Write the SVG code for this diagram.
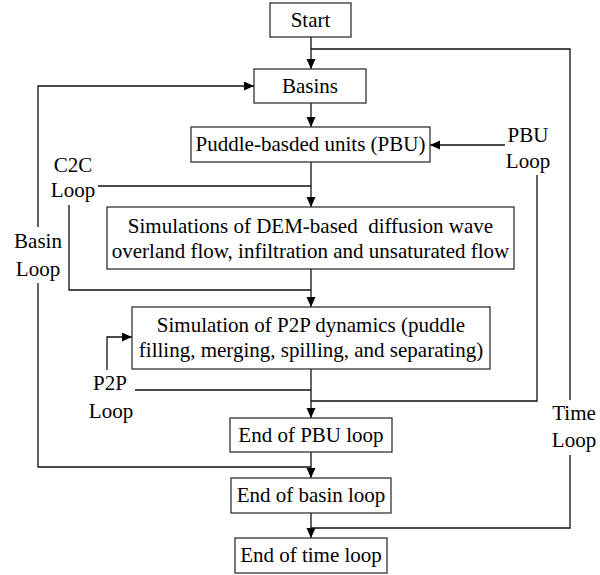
<svg xmlns="http://www.w3.org/2000/svg" width="600" height="575" viewBox="0 0 600 575">
<defs>
<marker id="ah" markerUnits="userSpaceOnUse" markerWidth="11" markerHeight="10" refX="10" refY="4.5" orient="auto">
<path d="M0,0 L10,4.5 L0,9 z" fill="#000"/>
</marker>
</defs>
<rect width="600" height="575" fill="#fff"/>
<g id="connectors" fill="none" stroke="#111" stroke-width="1.3">
<path d="M311,37 V69" marker-end="url(#ah)"/>
<path d="M311,103 V127" marker-end="url(#ah)"/>
<path d="M311,162 V207" marker-end="url(#ah)"/>
<path d="M311,269 V307" marker-end="url(#ah)"/>
<path d="M311,369 V418" marker-end="url(#ah)"/>
<path d="M311,452 V478" marker-end="url(#ah)"/>
<path d="M311,513 V538" marker-end="url(#ah)"/>
<path d="M311,49 H570 V400"/>
<path d="M570,455 V528 H311"/>
<path d="M311,467 H38 V283"/>
<path d="M38,227 V86 H254" marker-end="url(#ah)"/>
<path d="M98,186 H311"/>
<path d="M69,205 V290 H311"/>
<path d="M135,390 H311"/>
<path d="M107,370 V337 H132" marker-end="url(#ah)"/>
<path d="M537,175 V401 H311"/>
<path d="M505,145 H430" marker-end="url(#ah)"/>
</g>
<g id="start"><rect x="270" y="3" width="81" height="34" fill="#fff" stroke="#333" stroke-width="1.3"/><text x="310.5" y="27" font-family="Times New Roman, serif" font-size="21" text-anchor="middle">Start</text></g>
<g id="basins"><rect x="254" y="69" width="112" height="34" fill="#fff" stroke="#333" stroke-width="1.3"/><text x="310" y="93" font-family="Times New Roman, serif" font-size="21" text-anchor="middle">Basins</text></g>
<g id="pbu"><rect x="191" y="127" width="239" height="35" fill="#fff" stroke="#333" stroke-width="1.3"/><text x="310.5" y="151" font-family="Times New Roman, serif" font-size="21" text-anchor="middle">Puddle-basded units (PBU)</text></g>
<g id="sim"><rect x="107" y="207" width="407" height="62" fill="#fff" stroke="#333" stroke-width="1.3"/><text x="310.5" y="233" font-family="Times New Roman, serif" font-size="21" text-anchor="middle">Simulations of DEM-based&#160; diffusion wave</text><text x="310.5" y="258" font-family="Times New Roman, serif" font-size="21" text-anchor="middle">overland flow, infiltration and unsaturated flow</text></g>
<g id="p2p"><rect x="132" y="307" width="358" height="62" fill="#fff" stroke="#333" stroke-width="1.3"/><text x="311" y="332" font-family="Times New Roman, serif" font-size="21" text-anchor="middle">Simulation of P2P dynamics (puddle</text><text x="311" y="357" font-family="Times New Roman, serif" font-size="21" text-anchor="middle">filling, merging, spilling, and separating)</text></g>
<g id="endpbu"><rect x="230" y="418" width="162" height="34" fill="#fff" stroke="#333" stroke-width="1.3"/><text x="311" y="442" font-family="Times New Roman, serif" font-size="21" text-anchor="middle">End of PBU loop</text></g>
<g id="endbasin"><rect x="231" y="478" width="160" height="35" fill="#fff" stroke="#333" stroke-width="1.3"/><text x="311" y="502" font-family="Times New Roman, serif" font-size="21" text-anchor="middle">End of basin loop</text></g>
<g id="endtime"><rect x="235" y="538" width="152" height="35" fill="#fff" stroke="#333" stroke-width="1.3"/><text x="311" y="562" font-family="Times New Roman, serif" font-size="21" text-anchor="middle">End of time loop</text></g>
<g id="labels">
<text x="73" y="172" font-family="Times New Roman, serif" font-size="21" text-anchor="middle">C2C</text><text x="73" y="197" font-family="Times New Roman, serif" font-size="21" text-anchor="middle">Loop</text>
<text x="38" y="248" font-family="Times New Roman, serif" font-size="21" text-anchor="middle">Basin</text><text x="38" y="276" font-family="Times New Roman, serif" font-size="21" text-anchor="middle">Loop</text>
<text x="528" y="142" font-family="Times New Roman, serif" font-size="21" text-anchor="middle">PBU</text><text x="528" y="168" font-family="Times New Roman, serif" font-size="21" text-anchor="middle">Loop</text>
<text x="110" y="390" font-family="Times New Roman, serif" font-size="21" text-anchor="middle">P2P</text><text x="111" y="418" font-family="Times New Roman, serif" font-size="21" text-anchor="middle">Loop</text>
<text x="574" y="420" font-family="Times New Roman, serif" font-size="21" text-anchor="middle">Time</text><text x="574" y="447" font-family="Times New Roman, serif" font-size="21" text-anchor="middle">Loop</text>
</g>
</svg>
